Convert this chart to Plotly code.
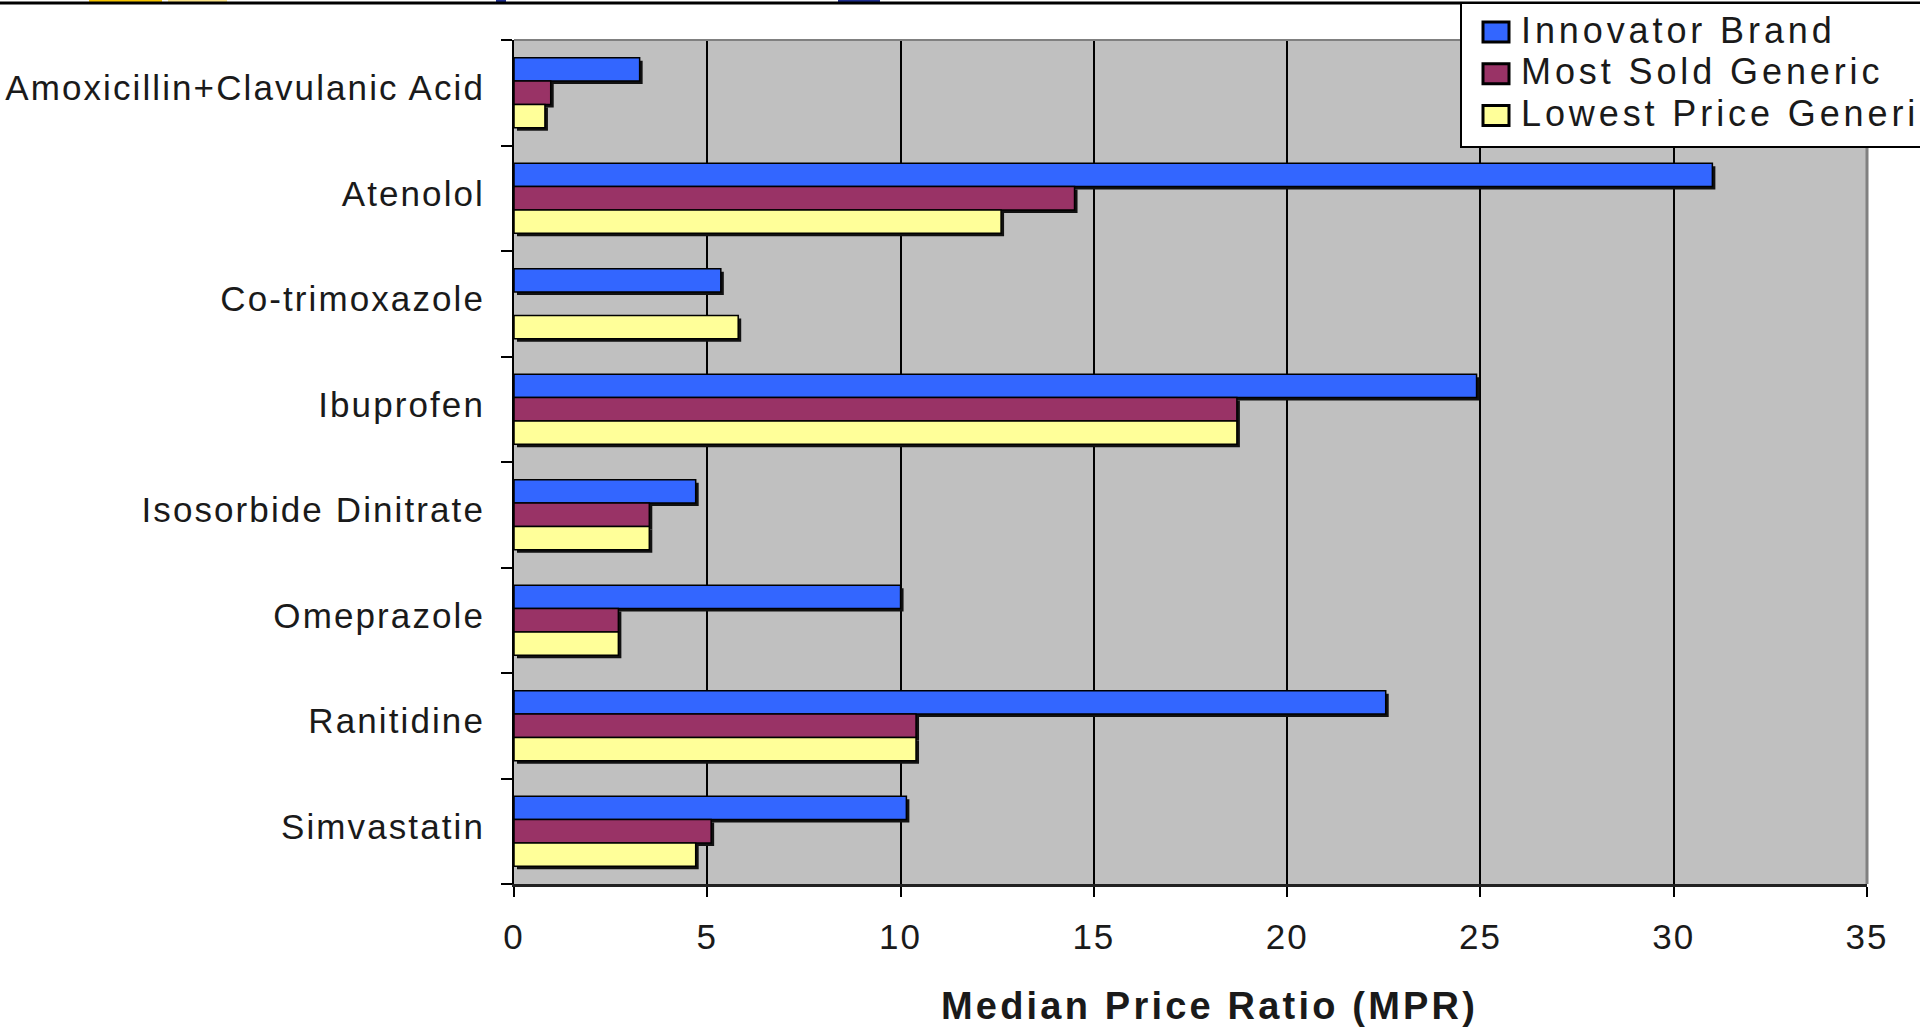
import plotly.graph_objects as go

# Median price ratios by medicine and product type
drugs = ["Amoxicillin+Clavulanic Acid", "Atenolol", "Co-trimoxazole", "Ibuprofen",
         "Isosorbide Dinitrate", "Omeprazole", "Ranitidine", "Simvastatin"]
innovator_brand = [3.25, 31.0, 5.35, 24.9, 4.7, 10.0, 22.55, 10.15]
most_sold_generic = [0.95, 14.5, None, 18.7, 3.5, 2.7, 10.4, 5.1]
lowest_price_generic = [0.8, 12.6, 5.8, 18.7, 3.5, 2.7, 10.4, 4.7]

series_names = ["Innovator Brand", "Most Sold Generic", "Lowest Price Generic"]
series_values = [innovator_brand, most_sold_generic, lowest_price_generic]
series_colors = ["#3366FF", "#993366", "#FFFF99"]
x_ticks = [0, 5, 10, 15, 20, 25, 30, 35]
x_range = [0, 35]
x_title = "Median Price Ratio (MPR)"

FONT = "Liberation Sans, Arial, Helvetica, sans-serif"
TEXT = "#1a1a1a"
W, H = 1920, 1028
L, R, T, B = 514, 53, 40, 144
plot_w = W - L - R
plot_h = H - T - B

# bar geometry in category units (one category = 1.0)
GROUP = 0.663
BAR_W = GROUP / len(series_names)
SHADOW_PX = 3
shadow_dx = SHADOW_PX * (x_range[1] - x_range[0]) / plot_w
shadow_dy = SHADOW_PX * len(drugs) / plot_h


def px_x(px):
    return (px - L) / plot_w


def px_y(py):
    return (H - B - py) / plot_h


def spaced(text, gap):
    return f'<span style="letter-spacing:{gap}px">{text}</span>'


fig = go.Figure()

# drop shadows under each bar
for i, vals in enumerate(series_values):
    fig.add_trace(go.Bar(
        y=drugs, x=vals, base=shadow_dx, orientation="h",
        width=BAR_W, offset=-GROUP / 2 + i * BAR_W + shadow_dy,
        marker=dict(color="#111111", line=dict(width=0)),
        showlegend=False, hoverinfo="skip",
    ))

for i, (name, vals, color) in enumerate(zip(series_names, series_values, series_colors)):
    fig.add_trace(go.Bar(
        y=drugs, x=vals, name=name, orientation="h",
        width=BAR_W, offset=-GROUP / 2 + i * BAR_W,
        marker=dict(color=color, line=dict(color="black", width=1.5)),
        showlegend=False,
    ))

shapes = []
annotations = []

# frame: grey top and right edges of the plotting area
shapes.append(dict(type="line", xref="paper", yref="paper", x0=0, x1=1, y0=1, y1=1,
                   line=dict(color="#808080", width=2), layer="above"))
shapes.append(dict(type="line", xref="paper", yref="paper", x0=1, x1=1, y0=0, y1=1,
                   line=dict(color="#808080", width=3), layer="above"))

# remnants of the header strip along the very top
shapes.append(dict(type="rect", xref="paper", yref="paper", x0=px_x(89), x1=px_x(162),
                   y0=px_y(2), y1=px_y(0), fillcolor="#F5C400", line=dict(width=0)))
shapes.append(dict(type="rect", xref="paper", yref="paper", x0=px_x(168), x1=px_x(227),
                   y0=px_y(2), y1=px_y(0), fillcolor="#FBE48A", line=dict(width=0)))
shapes.append(dict(type="rect", xref="paper", yref="paper", x0=px_x(496), x1=px_x(506),
                   y0=px_y(2), y1=px_y(0), fillcolor="#1F2E8F", line=dict(width=0)))
shapes.append(dict(type="rect", xref="paper", yref="paper", x0=px_x(838), x1=px_x(880),
                   y0=px_y(2), y1=px_y(0), fillcolor="#1F2E8F", line=dict(width=0)))
shapes.append(dict(type="line", xref="paper", yref="paper", x0=px_x(0), x1=px_x(W),
                   y0=px_y(3), y1=px_y(3), line=dict(color="black", width=3)))

# legend box (runs past the right edge of the page)
shapes.append(dict(type="rect", xref="paper", yref="paper", x0=px_x(1461), x1=px_x(1990),
                   y0=px_y(147), y1=px_y(3), fillcolor="white",
                   line=dict(color="black", width=2), layer="above"))
for i, (name, color) in enumerate(zip(series_names, series_colors)):
    cy = 32 + 41.7 * i
    shapes.append(dict(type="rect", xref="paper", yref="paper",
                       x0=px_x(1483), x1=px_x(1509), y0=px_y(cy + 10), y1=px_y(cy - 10),
                       fillcolor=color, line=dict(color="black", width=3), layer="above"))
    annotations.append(dict(xref="paper", yref="paper", x=px_x(1519), y=px_y(cy - 2),
                            xanchor="left", yanchor="middle", showarrow=False,
                            text=spaced(name, 3.9),
                            font=dict(family=FONT, size=36, color=TEXT)))

# x-axis title
annotations.append(dict(xref="paper", yref="paper", x=px_x(1209), y=px_y(1006),
                        xanchor="center", yanchor="middle", showarrow=False,
                        text="<b>" + spaced(x_title, 3.2) + "</b>",
                        font=dict(family=FONT, size=38, color=TEXT)))

fig.update_layout(
    width=W, height=H,
    margin=dict(l=L, r=R, t=T, b=B, autoexpand=False),
    paper_bgcolor="white", plot_bgcolor="#C0C0C0",
    barmode="overlay",
    font=dict(family=FONT, color=TEXT),
    shapes=shapes, annotations=annotations,
    showlegend=False,
)

fig.update_xaxes(
    range=x_range, tickmode="array", tickvals=x_ticks,
    ticktext=[spaced(str(v), 2) for v in x_ticks],
    showgrid=True, gridcolor="black", gridwidth=2, zeroline=False,
    showline=True, linecolor="#222", linewidth=3,
    ticks="outside", ticklen=10, tickwidth=2, tickcolor="black",
    tickfont=dict(family=FONT, size=35, color=TEXT), ticklabelstandoff=10,
)

fig.update_yaxes(
    type="category", categoryorder="array", categoryarray=drugs,
    range=[len(drugs) - 0.5, -0.5], tickmode="array", tickvals=drugs,
    ticktext=[spaced(d, 2.1) for d in drugs],
    tickson="boundaries", ticks="outside", ticklen=11, tickwidth=2, tickcolor="black",
    showline=True, linecolor="black", linewidth=2, showgrid=False, zeroline=False,
    tickfont=dict(family=FONT, size=35, color=TEXT), ticklabelstandoff=20,
    ticklabelshift=5,
)

fig.write_html("out.html")
